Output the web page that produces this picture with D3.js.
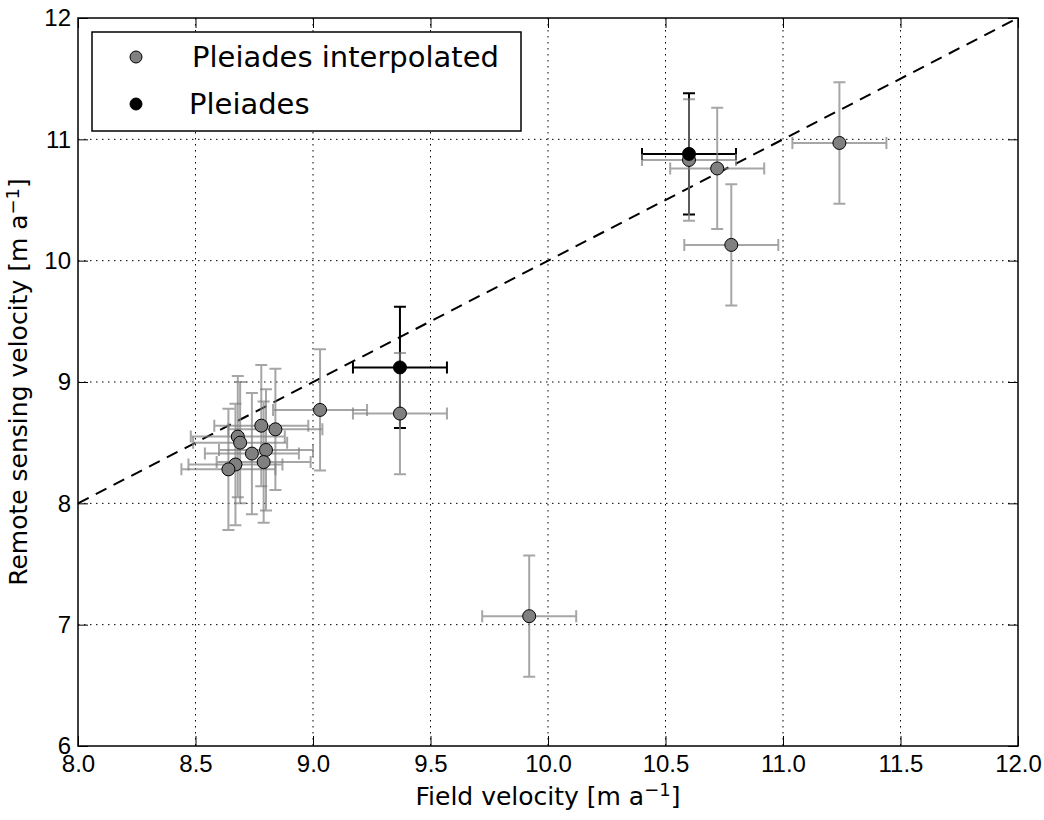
<!DOCTYPE html>
<html>
<head>
<meta charset="utf-8">
<script src="https://cdn.jsdelivr.net/npm/d3@7"></script>
<style>
  body { margin: 0; background: #fff; }
  svg { display: block; font-family: "DejaVu Sans", sans-serif; }
</style>
</head>
<body>
<svg width="1044" height="820"></svg>
<script>
// values
var interpX = [10.60, 10.72, 10.78, 11.24, 9.92, 9.37, 9.03, 8.84, 8.78, 8.68, 8.69, 8.74, 8.80, 8.79, 8.67, 8.64];
var interpY = [10.83, 10.76, 10.13, 10.97, 7.07, 8.74, 8.77, 8.61, 8.64, 8.55, 8.50, 8.41, 8.44, 8.34, 8.32, 8.28];
var pleiadesX = [10.60, 9.37];
var pleiadesY = [10.88, 9.12];
var xErr = 0.2, yErr = 0.5;
var xTicks = [8.0, 8.5, 9.0, 9.5, 10.0, 10.5, 11.0, 11.5, 12.0];
var yTicks = [6, 7, 8, 9, 10, 11, 12];
var oneToOne = [8, 12];

var svg = d3.select("svg"),
    margin = {top: 18, right: 26, bottom: 74, left: 78},
    width = +svg.attr("width") - margin.left - margin.right,
    height = +svg.attr("height") - margin.top - margin.bottom;

var x = d3.scaleLinear().domain([8, 12]).range([0, width]),
    y = d3.scaleLinear().domain([6, 12]).range([height, 0]);

var g = svg.append("g")
    .attr("transform", "translate(" + margin.left + "," + margin.top + ")");

// dotted grid
g.append("g").selectAll("line").data(xTicks.slice(1, -1)).enter().append("line")
    .attr("x1", function(d) { return x(d); }).attr("x2", function(d) { return x(d); })
    .attr("y1", 0).attr("y2", height)
    .attr("stroke", "#000").attr("stroke-width", 1).attr("stroke-dasharray", "1.5,4.5");
g.append("g").selectAll("line").data(yTicks.slice(1, -1)).enter().append("line")
    .attr("y1", function(d) { return y(d); }).attr("y2", function(d) { return y(d); })
    .attr("x1", 0).attr("x2", width)
    .attr("stroke", "#000").attr("stroke-width", 1).attr("stroke-dasharray", "1.5,4.5");

// axes, ticks pointing inwards on all four sides
function styleAxis(sel) {
  sel.select(".domain").remove();
  sel.selectAll(".tick line").attr("stroke", "#000").attr("stroke-width", 1);
  sel.selectAll(".tick text").attr("font-size", 24).attr("fill", "#000");
}
g.append("g").attr("transform", "translate(0," + height + ")")
    .call(d3.axisBottom(x).tickValues(xTicks).tickFormat(d3.format(".1f")).tickSizeInner(-10).tickPadding(9))
    .call(styleAxis);
g.append("g")
    .call(d3.axisTop(x).tickValues(xTicks).tickFormat("").tickSizeInner(-10))
    .call(styleAxis);
g.append("g")
    .call(d3.axisLeft(y).tickValues(yTicks).tickFormat(d3.format("d")).tickSizeInner(-10).tickPadding(7))
    .call(styleAxis);
g.append("g").attr("transform", "translate(" + width + ",0)")
    .call(d3.axisRight(y).tickValues(yTicks).tickFormat("").tickSizeInner(-10))
    .call(styleAxis);

// 1:1 line
g.append("line")
    .attr("x1", x(oneToOne[0])).attr("y1", y(oneToOne[0]))
    .attr("x2", x(oneToOne[1])).attr("y2", y(oneToOne[1]))
    .attr("stroke", "#000").attr("stroke-width", 2).attr("stroke-dasharray", "12,8");

function errorBars(xs, ys, color, opacity) {
  var eg = g.append("g").attr("stroke", color).attr("stroke-width", 2).attr("stroke-opacity", opacity).attr("fill", "none");
  var cap = 6;
  xs.forEach(function(xv, i) {
    var yv = ys[i];
    var path = d3.path();
    path.moveTo(x(xv - xErr), y(yv)); path.lineTo(x(xv + xErr), y(yv));
    path.moveTo(x(xv), y(yv - yErr)); path.lineTo(x(xv), y(yv + yErr));
    path.moveTo(x(xv - xErr), y(yv) - cap); path.lineTo(x(xv - xErr), y(yv) + cap);
    path.moveTo(x(xv + xErr), y(yv) - cap); path.lineTo(x(xv + xErr), y(yv) + cap);
    path.moveTo(x(xv) - cap, y(yv - yErr)); path.lineTo(x(xv) + cap, y(yv - yErr));
    path.moveTo(x(xv) - cap, y(yv + yErr)); path.lineTo(x(xv) + cap, y(yv + yErr));
    eg.append("path").attr("d", path.toString());
  });
}

function markers(xs, ys, fill) {
  g.append("g").selectAll("circle").data(xs).enter().append("circle")
      .attr("cx", function(d) { return x(d); })
      .attr("cy", function(d, i) { return y(ys[i]); })
      .attr("r", 6.5)
      .attr("fill", fill).attr("stroke", "#000").attr("stroke-width", 1);
}

errorBars(pleiadesX, pleiadesY, "#000", 1);
errorBars(interpX, interpY, "#808080", 0.7);
markers(interpX, interpY, "#808080");
markers(pleiadesX, pleiadesY, "#000");

// frame
g.append("rect").attr("width", width).attr("height", height)
    .attr("fill", "none").attr("stroke", "#000").attr("stroke-width", 1.5);

// legend
var lg = g.append("g").attr("transform", "translate(" + (92 - margin.left) + "," + (32 - margin.top) + ")");
lg.append("rect").attr("width", 429).attr("height", 99)
    .attr("fill", "#fff").attr("stroke", "#000").attr("stroke-width", 1.5);
var legendItems = [
  {label: "Pleiades interpolated", fill: "#808080", tx: 100},
  {label: "Pleiades", fill: "#000", tx: 97}
];
legendItems.forEach(function(d, i) {
  var cy = 25 + i * 47;
  lg.append("circle").attr("cx", 44).attr("cy", cy).attr("r", 6)
      .attr("fill", d.fill).attr("stroke", "#000").attr("stroke-width", 1);
  lg.append("text").attr("x", d.tx).attr("y", cy).attr("dy", "0.36em")
      .attr("font-size", 29).attr("fill", "#000").text(d.label);
});

// axis titles
var xt = svg.append("text")
    .attr("x", margin.left + width / 2).attr("y", 805)
    .attr("text-anchor", "middle").attr("font-size", 25).attr("fill", "#000");
xt.append("tspan").text("Field velocity [m a");
xt.append("tspan").attr("dy", -9).attr("font-size", 18).text("\u22121");
xt.append("tspan").attr("dy", 9).text("]");

var yt = svg.append("text")
    .attr("transform", "translate(27," + (margin.top + height / 2) + ") rotate(-90)")
    .attr("text-anchor", "middle").attr("font-size", 25).attr("fill", "#000");
yt.append("tspan").text("Remote sensing velocity [m a");
yt.append("tspan").attr("dy", -8).attr("font-size", 18).text("\u22121");
yt.append("tspan").attr("dy", 8).text("]");
</script>
</body>
</html>
